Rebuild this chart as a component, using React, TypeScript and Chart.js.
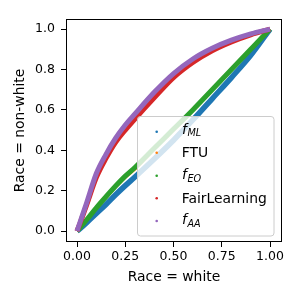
import React, { useEffect, useRef } from "react";
import { Chart, registerables } from "chart.js";
Chart.register(...registerables);

// quantile grid (Race = white) and per-series quantiles (Race = non-white)
const xGrid = [0, 0.02, 0.05, 0.1, 0.15, 0.2, 0.25, 0.3, 0.4, 0.5, 0.6, 0.7, 0.8, 0.9, 1.0];
const fML = [0, 0.016, 0.042, 0.087, 0.132, 0.18, 0.225, 0.268, 0.357, 0.45, 0.55, 0.655, 0.76, 0.87, 1.0];
const FTU = [0, 0.02, 0.052, 0.11, 0.165, 0.218, 0.266, 0.307, 0.405, 0.5, 0.597, 0.698, 0.8, 0.9, 1.0];
const fEO = [0, 0.022, 0.056, 0.115, 0.17, 0.223, 0.272, 0.315, 0.41, 0.505, 0.6, 0.7, 0.8, 0.9, 1.0];
const fairLearning = [0, 0.05, 0.13, 0.265, 0.36, 0.44, 0.5, 0.555, 0.66, 0.76, 0.835, 0.893, 0.937, 0.972, 1.0];
const fAA = [0, 0.056, 0.14, 0.285, 0.38, 0.46, 0.525, 0.58, 0.687, 0.78, 0.852, 0.905, 0.945, 0.976, 1.0];

const seriesValues = [fML, FTU, fEO, fairLearning, fAA];
const seriesLabels = [
  { main: "f", sub: "ML" },
  { main: "FTU", sub: "" },
  { main: "f", sub: "EO" },
  { main: "FairLearning", sub: "" },
  { main: "f", sub: "AA" },
];
const colors = ["#1f77b4", "#ff7f0e", "#2ca02c", "#d62728", "#9467bd"];
const xTicks = [0, 0.25, 0.5, 0.75, 1.0];
const yTicks = [0, 0.2, 0.4, 0.6, 0.8, 1.0];

const FONT = "DejaVu Sans";

const framePlugin = {
  id: "frameAndLegend",
  afterDraw(chart: any) {
    const { ctx, chartArea } = chart;
    const { left, right, top, bottom } = chartArea;
    ctx.save();
    ctx.strokeStyle = "#000";
    ctx.lineWidth = 1;
    ctx.strokeRect(Math.round(left) + 0.5, Math.round(top) + 0.5, Math.round(right - left) - 1, Math.round(bottom - top) - 1);

    // legend box
    const lx = 137.5, ly = 116.5, lw = 136.5, lh = 119.5, r = 3;
    ctx.beginPath();
    ctx.moveTo(lx + r, ly);
    ctx.lineTo(lx + lw - r, ly);
    ctx.arcTo(lx + lw, ly, lx + lw, ly + r, r);
    ctx.lineTo(lx + lw, ly + lh - r);
    ctx.arcTo(lx + lw, ly + lh, lx + lw - r, ly + lh, r);
    ctx.lineTo(lx + r, ly + lh);
    ctx.arcTo(lx, ly + lh, lx, ly + lh - r, r);
    ctx.lineTo(lx, ly + r);
    ctx.arcTo(lx, ly, lx + r, ly, r);
    ctx.closePath();
    ctx.fillStyle = "rgba(255,255,255,0.8)";
    ctx.fill();
    ctx.strokeStyle = "#cccccc";
    ctx.stroke();

    const dotY = [131.7, 152.7, 175.7, 198.3, 221];
    const baseY = [133.5, 157.3, 179, 203, 224];
    seriesLabels.forEach((lab, i) => {
      ctx.fillStyle = colors[i];
      ctx.beginPath();
      ctx.arc(156.7, dotY[i], 1.3, 0, Math.PI * 2);
      ctx.fill();
      ctx.fillStyle = "#000";
      ctx.textBaseline = "alphabetic";
      ctx.textAlign = "left";
      if (lab.sub) {
        ctx.font = `italic 13.9px "${FONT}"`;
        ctx.fillText(lab.main, 182, baseY[i]);
        const w = ctx.measureText(lab.main).width;
        ctx.font = `italic 9.7px "${FONT}"`;
        ctx.fillText(lab.sub, 182 + w + 0.5, baseY[i] + 2.5);
      } else {
        ctx.font = `13.9px "${FONT}"`;
        ctx.fillText(lab.main, 181.7, baseY[i]);
      }
    });
    ctx.restore();
  },
};

export default function App() {
  const ref = useRef<HTMLCanvasElement>(null);
  useEffect(() => {
    if (!ref.current) return;
    const datasets = seriesValues.map((vals, i) => ({
      label: seriesLabels[i].main + seriesLabels[i].sub,
      data: xGrid.map((x, j) => ({ x, y: vals[j] })),
      showLine: true,
      pointRadius: 0,
      borderWidth: i === 1 ? 3 : i === 0 ? 5.5 : 5,
      borderColor: colors[i],
      backgroundColor: colors[i],
      cubicInterpolationMode: "monotone" as const,
      order: 4 - i,
    }));
    const tickFont = { family: FONT, size: 12.5 };
    const titleFont = { family: FONT, size: 13.9 };
    const chart = new Chart(ref.current, {
      type: "scatter",
      data: { datasets },
      options: {
        animation: false,
        responsive: false,
        layout: { padding: { left: 0, top: 19, right: 18, bottom: 0 } },
        plugins: { legend: { display: false }, tooltip: { enabled: false } },
        scales: {
          x: {
            type: "linear",
            min: -0.057,
            max: 1.062,
            afterBuildTicks: (s: any) => {
              s.ticks = xTicks.map((v) => ({ value: v }));
            },
            afterFit: (s: any) => {
              s.height = 58;
            },
            ticks: {
              color: "#000",
              font: tickFont,
              padding: 2,
              autoSkip: false,
              maxRotation: 0,
              callback: (v: any) => Number(v).toFixed(2),
            },
            grid: { display: true, drawOnChartArea: false, drawTicks: true, tickLength: 5, tickColor: "#000", color: "#000" },
            border: { display: false },
            title: { display: true, text: "Race = white", color: "#000", font: titleFont, padding: { top: 0, bottom: 14.7 } },
          },
          y: {
            type: "linear",
            min: -0.054,
            max: 1.05,
            afterBuildTicks: (s: any) => {
              s.ticks = yTicks.map((v) => ({ value: v }));
            },
            afterFit: (s: any) => {
              s.width = 66;
            },
            ticks: {
              color: "#000",
              font: tickFont,
              padding: 6,
              autoSkip: false,
              callback: (v: any) => Number(v).toFixed(1),
            },
            grid: { display: true, drawOnChartArea: false, drawTicks: true, tickLength: 5, tickColor: "#000", color: "#000" },
            border: { display: false },
            title: { display: true, text: "Race = non-white", color: "#000", font: titleFont, padding: { top: 12.4, bottom: 0 } },
          },
        },
      },
      plugins: [framePlugin],
    });
    return () => chart.destroy();
  }, []);
  return (
    <div style={{ position: "fixed", left: 0, top: 0, width: 300, height: 300, background: "#fff" }}>
      <canvas ref={ref} width={300} height={300} style={{ width: 300, height: 300, display: "block" }} />
    </div>
  );
}
